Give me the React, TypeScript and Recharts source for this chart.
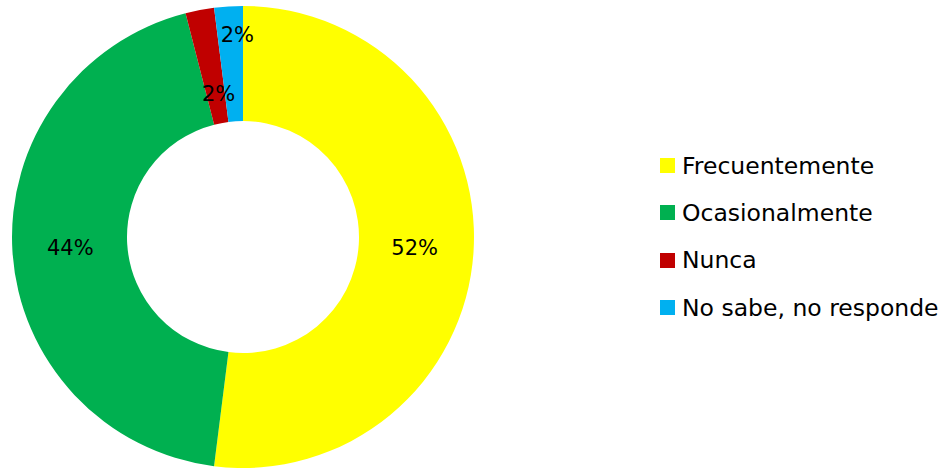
import React from 'react';
import { PieChart, Pie, Cell, Legend } from 'recharts';

const categories = ['Frecuentemente', 'Ocasionalmente', 'Nunca', 'No sabe, no responde'];
const values = [52, 44, 2, 2];
const colors = ['#FFFF00', '#00B050', '#C00000', '#00B0F0'];
// label distance from centre for each slice (the small ones are nudged apart)
const labelRadius = [172, 173, 146, 202];
const labelShift = [0, 0, 3, 7];

const data = categories.map((name, i) => ({ name, value: values[i] }));

const FONT = '"DejaVu Sans", Verdana, sans-serif';
const RAD = Math.PI / 180;

function renderLabel(props: any) {
  const { cx, cy, midAngle, index, value } = props;
  const r = labelRadius[index];
  const x = cx + r * Math.cos(-midAngle * RAD) + labelShift[index];
  const y = cy + r * Math.sin(-midAngle * RAD);
  return (
    <text x={x} y={y} fill="#000" fontSize={21} fontFamily={FONT} textAnchor="middle" dominantBaseline="central">
      {value}%
    </text>
  );
}

function LegendBox() {
  return (
    <div style={{ fontFamily: FONT, fontSize: 23.5, color: '#000' }}>
      {data.map((d, i) => (
        <div key={d.name} style={{ display: 'flex', alignItems: 'center', height: 47.3 }}>
          <span style={{ width: 15, height: 15, background: colors[i], marginRight: 7, display: 'inline-block' }} />
          <span>{d.name}</span>
        </div>
      ))}
    </div>
  );
}

export default function App() {
  return (
    <div style={{ position: 'absolute', left: 0, top: 0, background: '#fff' }}>
      <PieChart width={946} height={470} margin={{ top: 0, right: 0, bottom: 0, left: 0 }}>
        <Pie
          data={data}
          dataKey="value"
          cx={243}
          cy={237}
          innerRadius={116}
          outerRadius={231}
          startAngle={90}
          endAngle={-270}
          stroke="none"
          label={renderLabel}
          labelLine={false}
          isAnimationActive={false}
        >
          {data.map((d, i) => (
            <Cell key={d.name} fill={colors[i]} />
          ))}
        </Pie>
        <Legend content={<LegendBox />} wrapperStyle={{ left: 660, top: 142, width: 290 }} />
      </PieChart>
    </div>
  );
}
